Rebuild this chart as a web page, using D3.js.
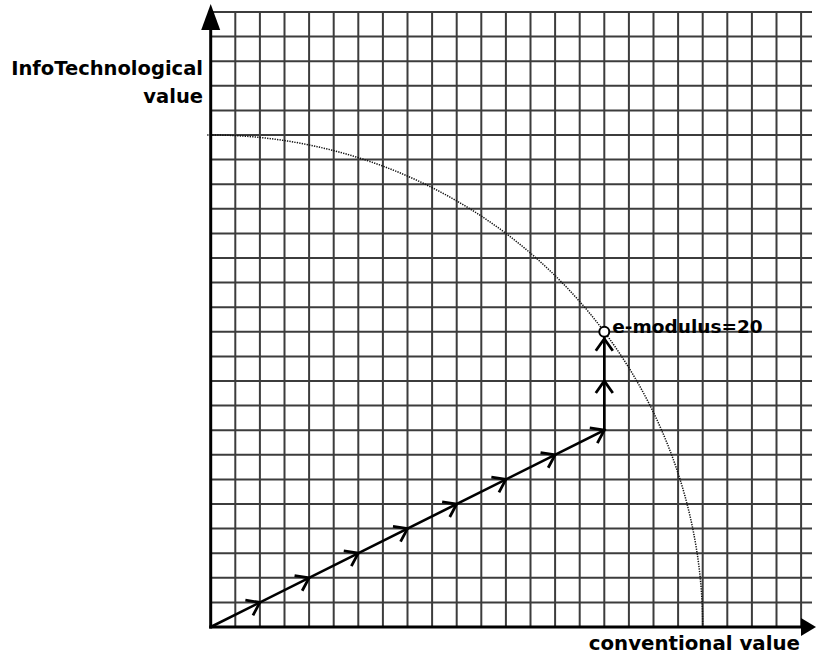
<!DOCTYPE html>
<html>
<head>
<meta charset="utf-8">
<script src="https://cdn.jsdelivr.net/npm/d3@7"></script>
<style>
  body { margin: 0; background: #fff; }
  .label { font-family: "DejaVu Sans", sans-serif; font-weight: bold; fill: #000; }
</style>
</head>
<body>
<div id="chart"></div>
<script>
// grid ticks (in value units)
var xTicks = d3.range(0, 25);   // 0..24
var yTicks = d3.range(0, 26);   // 0..25

// the path of the vector: origin -> conventional step -> infotech step
var pathPoints = [[0, 0], [16, 8], [16, 12]];
// arrow tips along the path
var arrowTips = [[2, 1], [4, 2], [6, 3], [8, 4], [10, 5], [12, 6], [14, 7], [16, 8], [16, 10], [16, 12]];
// circle of constant modulus
var eModulus = 20;
var pointLabel = "e-modulus=20";
var yTitle = ["InfoTechnological", "value"];
var xTitle = "conventional value";

var W = 816, H = 655;
var margin = { top: 12, right: 15, bottom: 28, left: 210.7 };

var svg = d3.select("#chart").append("svg")
    .attr("width", W)
    .attr("height", H);

var x = d3.scaleLinear().domain([0, 24]).range([margin.left, margin.left + 24 * 24.6]);
var y = d3.scaleLinear().domain([0, 25]).range([627, 627 - 25 * 24.6]);

// Grid
var grid = svg.append("g").attr("class", "grid")
    .attr("stroke", "#3c3c3c").attr("stroke-width", 2);

grid.selectAll(".vline").data(xTicks.slice(1)).enter()
    .append("line")
    .attr("x1", function(d) { return x(d); })
    .attr("x2", function(d) { return x(d); })
    .attr("y1", y(0))
    .attr("y2", y(25));

grid.selectAll(".hline").data(yTicks.slice(1)).enter()
    .append("line")
    .attr("x1", x(0))
    .attr("x2", 812)
    .attr("y1", function(d) { return y(d); })
    .attr("y2", function(d) { return y(d); });

// dotted quarter circle
var arcPts = d3.range(0, 91, 0.5).map(function(a) {
    var r = a * Math.PI / 180;
    return [eModulus * Math.cos(r), eModulus * Math.sin(r)];
});
svg.append("path")
    .datum(arcPts)
    .attr("d", d3.line().x(function(d) { return x(d[0]); }).y(function(d) { return y(d[1]); }))
    .attr("fill", "none")
    .attr("stroke", "#111")
    .attr("stroke-width", 1.5)
    .attr("stroke-dasharray", "1.3,1.2");

// Axes
var axes = svg.append("g").attr("stroke", "#000").attr("fill", "#000");
axes.append("line")
    .attr("x1", x(0)).attr("x2", x(0))
    .attr("y1", y(0) + 1.5).attr("y2", 25)
    .attr("stroke-width", 3);
axes.append("path")
    .attr("d", "M" + x(0) + ",4 L" + (x(0) - 9.5) + ",30 L" + (x(0) + 9.5) + ",30 Z")
    .attr("stroke", "none");
axes.append("line")
    .attr("x1", x(0) - 1.5).attr("x2", 806)
    .attr("y1", y(0)).attr("y2", y(0))
    .attr("stroke-width", 3);
axes.append("path")
    .attr("d", "M816," + y(0) + " L801," + (y(0) - 9) + " L801," + (y(0) + 9) + " Z")
    .attr("stroke", "none");

// the vector path
svg.append("path")
    .datum(pathPoints)
    .attr("d", d3.line().x(function(d) { return x(d[0]); }).y(function(d) { return y(d[1]); }))
    .attr("fill", "none")
    .attr("stroke", "#000")
    .attr("stroke-width", 2.6);

// chevrons, direction taken from the segment they sit on
function segAngle(p) {
    for (var i = 1; i < pathPoints.length; i++) {
        var a = pathPoints[i - 1], b = pathPoints[i];
        var onX = p[0] >= Math.min(a[0], b[0]) && p[0] <= Math.max(a[0], b[0]);
        var onY = p[1] >= Math.min(a[1], b[1]) && p[1] <= Math.max(a[1], b[1]);
        if (onX && onY && !(p[0] === a[0] && p[1] === a[1])) {
            return Math.atan2(y(b[1]) - y(a[1]), x(b[0]) - x(a[0]));
        }
    }
    return 0;
}

svg.selectAll(".chev").data(arrowTips).enter()
    .append("path")
    .attr("class", "chev")
    .attr("transform", function(d) {
        var tx = x(d[0]), ty = y(d[1]);
        if (d[0] === 16 && d[1] === 12) ty += 7; // tip just below the point
        return "translate(" + tx + "," + ty + ") rotate(" + (segAngle(d) * 180 / Math.PI) + ")";
    })
    .attr("d", "M-12,-8.5 L0,0 L-12,8.5")
    .attr("fill", "none")
    .attr("stroke", "#000")
    .attr("stroke-width", 2.8)
    .attr("stroke-linejoin", "miter");

// the point on the circle
var pt = pathPoints[pathPoints.length - 1];
svg.append("circle")
    .attr("cx", x(pt[0]))
    .attr("cy", y(pt[1]))
    .attr("r", 5)
    .attr("fill", "#fff")
    .attr("stroke", "#000")
    .attr("stroke-width", 2);

svg.append("text")
    .attr("class", "label")
    .attr("x", x(pt[0]) + 8)
    .attr("y", y(pt[1]) + 1)
    .style("font-size", "18.5px")
    .text(pointLabel);

// titles
svg.append("text")
    .attr("class", "label")
    .attr("text-anchor", "end")
    .style("font-size", "19.5px")
    .selectAll("tspan").data(yTitle).enter()
    .append("tspan")
    .attr("x", 203)
    .attr("y", function(d, i) { return 75 + i * 28; })
    .text(function(d) { return d; });

svg.append("text")
    .attr("class", "label")
    .attr("text-anchor", "end")
    .attr("x", 800)
    .attr("y", 650)
    .style("font-size", "19.8px")
    .text(xTitle);
</script>
</body>
</html>
